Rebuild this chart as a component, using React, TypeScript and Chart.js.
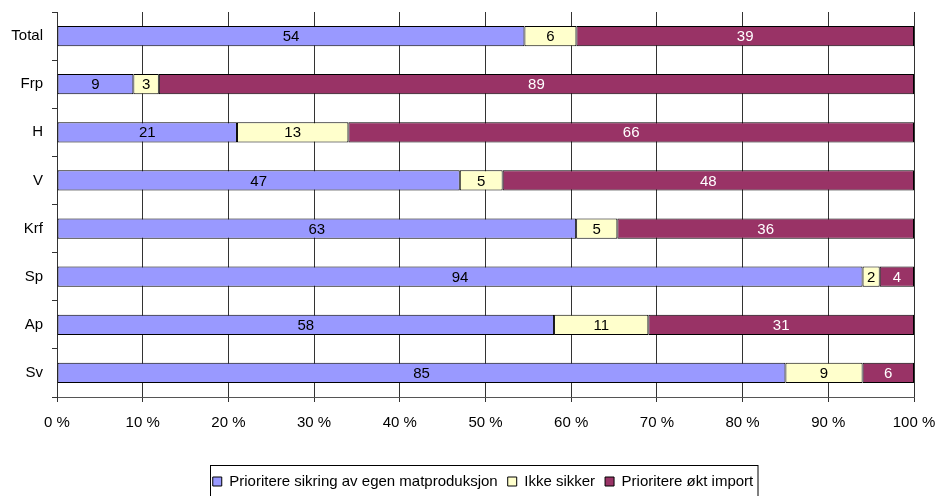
import React, { useEffect, useRef } from "react";
import { Chart, registerables } from "chart.js";

Chart.register(...registerables);

const categories = ["Total", "Frp", "H", "V", "Krf", "Sp", "Ap", "Sv"];
const seriesNames = ["Prioritere sikring av egen matproduksjon", "Ikke sikker", "Prioritere økt import"];
const egenMat = [54, 9, 21, 47, 63, 94, 58, 85];
const ikkeSikker = [6, 3, 13, 5, 5, 2, 11, 9];
const oktImport = [39, 89, 66, 48, 36, 4, 31, 6];
const xTicks = [0, 10, 20, 30, 40, 50, 60, 70, 80, 90, 100];

const FONT = "'Liberation Sans', Arial, sans-serif";

const rowTotals = categories.map((_, i) => egenMat[i] + ikkeSikker[i] + oktImport[i]);
const pct = (arr: number[]) => arr.map((v, i) => (v / rowTotals[i]) * 100);

const labelPlugin = {
  id: "segLabels",
  afterDatasetsDraw(chart: any) {
    const ctx = chart.ctx;
    ctx.save();
    ctx.font = `15px ${FONT}`;
    ctx.textAlign = "center";
    ctx.textBaseline = "middle";
    chart.data.datasets.forEach((ds: any, di: number) => {
      const meta = chart.getDatasetMeta(di);
      meta.data.forEach((el: any, i: number) => {
        const p = el.getProps(["x", "y", "base"], true);
        ctx.fillStyle = di === 2 ? "#ffffff" : "#000000";
        ctx.fillText(String(ds.raw[i]), (p.x + p.base) / 2, p.y + 1);
      });
    });
    ctx.restore();
  },
};

const legendPlacer = {
  id: "legendPlacer",
  afterLayout(chart: any) {
    const lg = chart.legend;
    if (!lg) return;
    const shift = 483 - (lg.left + lg.right) / 2;
    lg.left += shift;
    lg.right += shift;
    lg.top += 3;
    lg.bottom += 3;
  },
  afterDraw(chart: any) {
    const lg = chart.legend;
    if (!lg || !lg.legendHitBoxes || !lg.legendHitBoxes.length) return;
    let minX = Infinity, maxX = -Infinity, minY = Infinity, maxY = -Infinity;
    lg.legendHitBoxes.forEach((h: any) => {
      minX = Math.min(minX, h.left);
      maxX = Math.max(maxX, h.left + h.width);
      minY = Math.min(minY, h.top);
      maxY = Math.max(maxY, h.top + h.height);
    });
    const cy = (minY + maxY) / 2;
    const ctx = chart.ctx;
    ctx.save();
    ctx.strokeStyle = "#000";
    ctx.lineWidth = 1;
    const l = Math.round(minX - 3) + 0.5;
    const t = Math.round(cy - 17) + 0.5;
    ctx.strokeRect(l, t, Math.round(maxX + 5) - l, 520 - t);
    ctx.restore();
  },
};

export default function App() {
  const ref = useRef<HTMLCanvasElement>(null);
  useEffect(() => {
    document.body.style.margin = "0";
    const chart = new Chart(ref.current!, {
      type: "bar",
      data: {
        labels: categories,
        datasets: [
          { label: seriesNames[0], data: pct(egenMat), raw: egenMat, backgroundColor: "#9999FF" } as any,
          { label: seriesNames[1], data: pct(ikkeSikker), raw: ikkeSikker, backgroundColor: "#FFFFCC" } as any,
          { label: seriesNames[2], data: pct(oktImport), raw: oktImport, backgroundColor: "#993366" } as any,
        ].map((d: any) => ({
          ...d,
          borderColor: "#000000",
          borderWidth: 1,
          borderSkipped: false,
          categoryPercentage: 1,
          barPercentage: 0.42,
        })),
      },
      options: {
        indexAxis: "y",
        animation: false,
        responsive: false,
        maintainAspectRatio: false,
        layout: { padding: { left: 0, right: 22, top: 12, bottom: 0 } },
        plugins: {
          tooltip: { enabled: false },
          legend: {
            position: "bottom",
            labels: {
              color: "#000",
              font: { family: FONT, size: 15 },
              boxWidth: 9,
              boxHeight: 9,
              padding: 10,
              generateLabels: (chart: any) =>
                chart.data.datasets.map((ds: any, i: number) => ({
                  text: ds.label,
                  fillStyle: ds.backgroundColor,
                  strokeStyle: "#000",
                  lineWidth: 1,
                  datasetIndex: i,
                  hidden: false,
                  fontColor: "#000",
                })),
            },
          },
        },
        scales: {
          x: {
            stacked: true,
            min: 0,
            max: 100,
            afterBuildTicks: (scale: any) => {
              scale.ticks = xTicks.map((v) => ({ value: v }));
            },
            afterFit: (scale: any) => {
              scale.height = 64;
              scale.paddingLeft = 0;
              scale.paddingRight = 0;
            },
            ticks: {
              color: "#000",
              font: { family: FONT, size: 15 },
              padding: 12,
              maxRotation: 0,
              callback: (v: any) => `${v} %`,
            },
            grid: { color: "#333", lineWidth: 1, tickLength: 5, drawTicks: true },
            border: { display: true, color: "#555", width: 1 },
          },
          y: {
            stacked: true,
            afterFit: (scale: any) => {
              scale.width = 57;
              scale.paddingTop = 0;
              scale.paddingBottom = 0;
            },
            ticks: {
              color: "#000",
              font: { family: FONT, size: 15 },
              padding: 9,
            },
            grid: { drawOnChartArea: false, drawTicks: true, tickLength: 5, color: "#333", offset: true },
            border: { display: true, color: "#333", width: 1 },
          },
        },
      },
      plugins: [labelPlugin, legendPlacer],
    } as any);
    return () => chart.destroy();
  }, []);
  return <canvas ref={ref} width={936} height={496} style={{ display: "block" }} />;
}
